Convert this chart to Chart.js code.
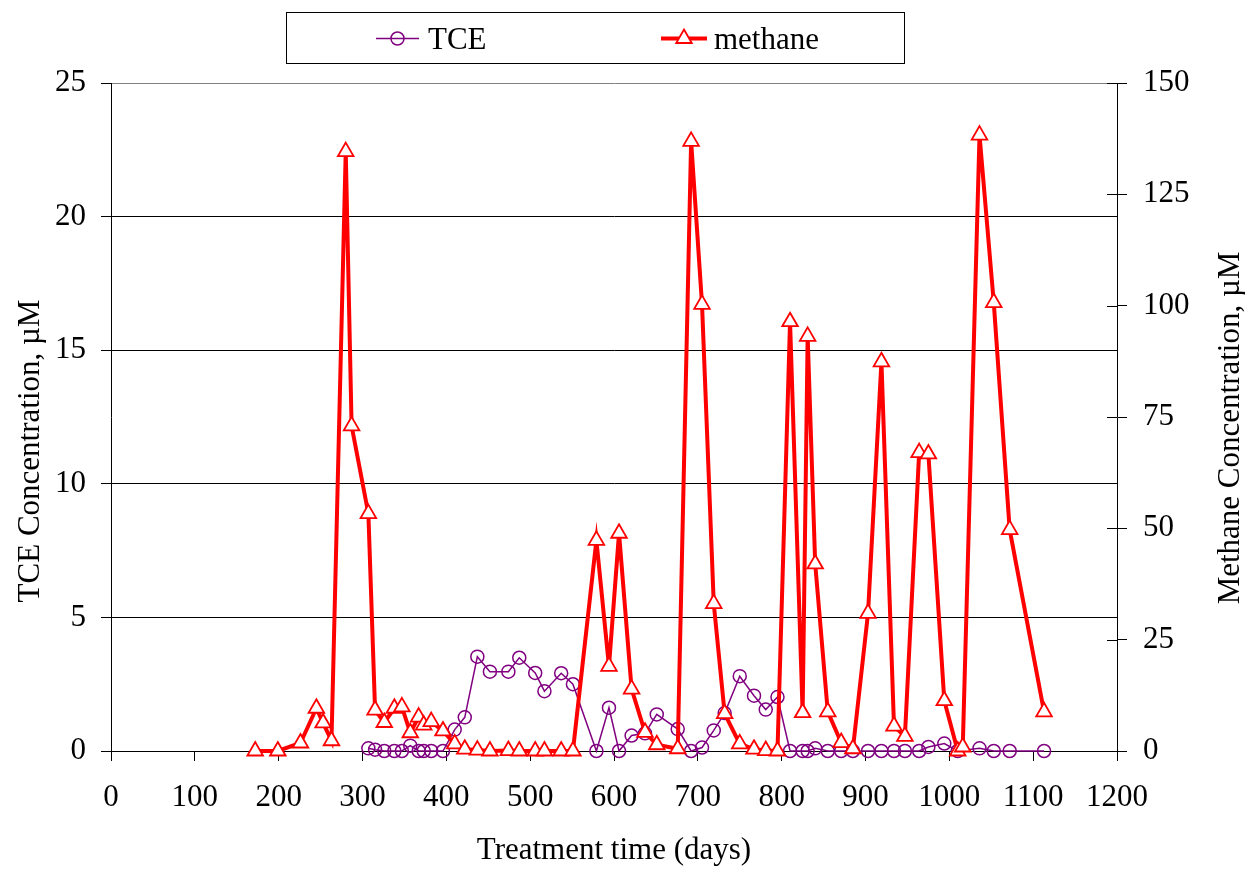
<!DOCTYPE html>
<html>
<head>
<meta charset="utf-8">
<title>TCE and methane</title>
<script src="https://cdn.jsdelivr.net/npm/chart.js@4.4.1/dist/chart.umd.min.js"></script>
<style>
    html, body { margin: 0; padding: 0; background: #fff; }
    #wrap { width: 1245px; height: 871px; }
</style>
</head>
<body>
<div id="wrap"><canvas id="tceChart" width="1245" height="871"></canvas></div>
<script>
// Data
const tceDays = [307, 315, 326, 338, 347, 357, 367, 373, 382, 396,
    410, 422, 437, 452, 474, 487, 506, 517, 537, 551,
    579, 594, 606, 621, 637, 651, 676, 692, 705, 719,
    732, 750, 767, 781, 795, 810, 825, 831, 840, 855,
    871, 885, 903, 919, 934, 947, 964, 975, 994, 1010,
    1036, 1053, 1072, 1113];
const tceValues = [0.1, 0.05, 0, 0, 0, 0.2, 0, 0, 0, 0,
    0.8, 1.26, 3.53, 2.97, 2.97, 3.49, 2.92, 2.24, 2.91, 2.5,
    0, 1.62, 0, 0.58, 0.66, 1.37, 0.82, 0, 0.13, 0.77,
    1.42, 2.8, 2.07, 1.55, 2.02, 0, 0, 0, 0.1, 0,
    0, 0, 0, 0, 0, 0, 0, 0.15, 0.28, 0,
    0.1, 0, 0, 0];

const methaneDays = [172, 199, 226, 245, 253, 263, 280, 287, 307, 315,
    326, 338, 347, 357, 367, 373, 382, 396, 410, 422,
    437, 452, 474, 487, 506, 517, 537, 551, 579, 594,
    606, 621, 637, 651, 676, 692, 705, 719, 732, 750,
    767, 781, 795, 810, 825, 831, 840, 855, 871, 885,
    903, 919, 934, 947, 964, 975, 994, 1010, 1016, 1036,
    1053, 1072, 1113];
const methaneValues = [0, 0, 1.8, 9.6, 6.3, 2.3, 134.6, 73, 53.3, 9.2,
    6.4, 9.6, 9.9, 4.1, 7.6, 5.8, 6.6, 4.5, 1.6, 0.4,
    0.2, 0, 0.1, 0, 0, 0, 0, 0, 47.3, 19,
    48.9, 13.9, 4.2, 1.4, 0.5, 136.9, 100.3, 33.1, 8.4, 1.6,
    0.4, 0.1, 0, 96.4, 8.6, 93.1, 42, 8.8, 1.9, 0.5,
    30.9, 87.4, 5.6, 3.3, 67, 66.7, 11.3, 0, 0.9, 138.3,
    100.7, 49.7, 8.8];

// Axis ranges / tick steps
const xRange = [0, 1200, 100];
const tceRange = [0, 25, 5];
const methaneRange = [0, 150, 25];

const seriesNames = ['TCE', 'methane'];
const xTitle = 'Treatment time (days)';
const yTitle = 'TCE Concentration, \u00b5M';
const y2Title = 'Methane Concentration, \u00b5M';

const PURPLE = '#800080';
const RED = '#ff0000';
const FONT = '"Liberation Serif", "Times New Roman", serif';

Chart.defaults.font.family = FONT;
Chart.defaults.font.size = 31;
Chart.defaults.color = '#000';

function toPoints(xs, ys) {
    return xs.map((x, i) => ({ x: x, y: ys[i] }));
}

// plain numbers, no thousands separator
const plainTick = (value) => String(value);

// Legend box, axis titles and the inner half of the right-axis ticks
const extrasPlugin = {
    id: 'extras',
    afterDraw(chart) {
        const ctx = chart.ctx;
        const area = chart.chartArea;
        const y2 = chart.scales.y2;

        ctx.save();
        // inner tick stubs on the right axis
        ctx.strokeStyle = '#000';
        ctx.lineWidth = 1;
        y2.ticks.forEach((t, i) => {
            const py = Math.round(y2.getPixelForTick(i)) + 0.5;
            ctx.beginPath();
            ctx.moveTo(area.right - 10, py);
            ctx.lineTo(area.right, py);
            ctx.stroke();
        });

        // titles
        ctx.fillStyle = '#000';
        ctx.font = '31px ' + FONT;
        ctx.textAlign = 'center';
        ctx.textBaseline = 'alphabetic';
        ctx.fillText(xTitle, (area.left + area.right) / 2, 859);

        ctx.save();
        ctx.translate(39, 451);
        ctx.rotate(-Math.PI / 2);
        ctx.fillText(yTitle, 0, 0);
        ctx.restore();

        ctx.save();
        ctx.translate(1239, 428);
        ctx.rotate(-Math.PI / 2);
        ctx.fillText(y2Title, 0, 0);
        ctx.restore();

        // legend
        ctx.strokeStyle = '#000';
        ctx.lineWidth = 1;
        ctx.strokeRect(286.5, 12.5, 618, 51);

        const ly = 38.5;
        ctx.strokeStyle = PURPLE;
        ctx.lineWidth = 1.5;
        ctx.beginPath();
        ctx.moveTo(376, ly);
        ctx.lineTo(419, ly);
        ctx.stroke();
        ctx.beginPath();
        ctx.arc(397.5, ly, 6.5, 0, Math.PI * 2);
        ctx.stroke();

        ctx.strokeStyle = RED;
        ctx.lineWidth = 4;
        ctx.beginPath();
        ctx.moveTo(661, ly);
        ctx.lineTo(707, ly);
        ctx.stroke();
        ctx.fillStyle = '#fff';
        ctx.lineWidth = 1.8;
        ctx.beginPath();
        const r = 9;
        ctx.moveTo(684, ly - r);
        ctx.lineTo(684 + r * Math.cos(Math.PI / 6), ly + r / 2);
        ctx.lineTo(684 - r * Math.cos(Math.PI / 6), ly + r / 2);
        ctx.closePath();
        ctx.fill();
        ctx.stroke();

        ctx.fillStyle = '#000';
        ctx.textAlign = 'left';
        ctx.fillText(seriesNames[0], 428, 49);
        ctx.fillText(seriesNames[1], 714, 49);
        ctx.restore();
    }
};

const canvas = document.getElementById('tceChart');
const chart = new Chart(canvas.getContext('2d'), {
    type: 'line',
    data: {
        datasets: [
            {
                label: seriesNames[0],
                data: toPoints(tceDays, tceValues),
                yAxisID: 'y',
                borderColor: PURPLE,
                borderWidth: 1.5,
                pointStyle: 'circle',
                pointRadius: 6.5,
                pointBorderWidth: 1.5,
                pointBorderColor: PURPLE,
                pointBackgroundColor: 'rgba(255,255,255,0)',
                tension: 0,
                clip: false,
                order: 1
            },
            {
                label: seriesNames[1],
                data: toPoints(methaneDays, methaneValues),
                yAxisID: 'y2',
                borderColor: RED,
                borderWidth: 4,
                pointStyle: 'triangle',
                pointRadius: 9,
                pointBorderWidth: 1.8,
                pointBorderColor: RED,
                pointBackgroundColor: '#fff',
                tension: 0,
                clip: false,
                order: 0
            }
        ]
    },
    options: {
        responsive: false,
        animation: false,
        devicePixelRatio: 1,
        layout: { padding: { top: 83, left: 0, right: 0, bottom: 0 } },
        plugins: {
            legend: { display: false },
            tooltip: { enabled: false }
        },
        scales: {
            x: {
                type: 'linear',
                min: xRange[0],
                max: xRange[1],
                afterFit: (s) => { s.height = 120; },
                ticks: { stepSize: xRange[2], padding: 18, color: '#000', callback: plainTick },
                grid: { drawOnChartArea: false, drawTicks: true, tickLength: 10, tickColor: '#000' },
                border: { color: '#000', width: 1 }
            },
            y: {
                position: 'left',
                min: tceRange[0],
                max: tceRange[1],
                afterFit: (s) => { s.width = 111; },
                ticks: { stepSize: tceRange[2], padding: 15, color: '#000', callback: plainTick },
                grid: {
                    color: (c) => (c.tick && c.tick.value === tceRange[1] ? '#808080' : '#000'),
                    lineWidth: 1,
                    tickLength: 10,
                    tickColor: '#000'
                },
                border: { color: '#000', width: 1 }
            },
            y2: {
                position: 'right',
                min: methaneRange[0],
                max: methaneRange[1],
                afterFit: (s) => { s.width = 128; },
                ticks: { stepSize: methaneRange[2], padding: 16, color: '#000', callback: plainTick },
                grid: { drawOnChartArea: false, tickLength: 10, tickColor: '#000' },
                border: { color: '#000', width: 1 }
            }
        }
    },
    plugins: [extrasPlugin]
});
</script>
</body>
</html>
